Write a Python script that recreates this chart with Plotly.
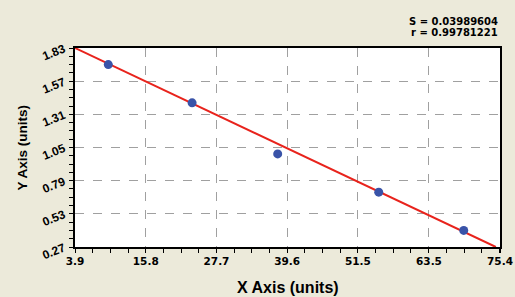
import plotly.graph_objects as go

# Data
pts_x = [9.5, 23.6, 38.0, 55.0, 69.3]
pts_y = [1.70, 1.40, 1.00, 0.70, 0.40]
fit_x = [3.9, 74.7]
fit_y = [1.83, 0.27]

x_tickvals = [3.9, 15.8, 27.7, 39.6, 51.5, 63.45, 75.4]
x_ticktext = ["3.9", "15.8", "27.7", "39.6", "51.5", "63.5", "75.4"]
y_tickvals = [0.27, 0.53, 0.79, 1.05, 1.31, 1.57, 1.83]
y_ticktext = ["0.27", "0.53", "0.79", "1.05", "1.31", "1.57", "1.83"]

stats = ["S = 0.03989604", "r = 0.99781221"]
x_title = "X Axis (units)"
y_title = "Y Axis (units)"

FONT = "Liberation Sans, Arial, sans-serif"
WIDE = "DejaVu Sans, Verdana, sans-serif"
BG = "#ECEADA"

fig = go.Figure()
fig.add_trace(go.Scatter(x=fit_x, y=fit_y, mode="lines",
                         line=dict(color="#E8231C", width=2), hoverinfo="skip"))
fig.add_trace(go.Scatter(x=pts_x, y=pts_y, mode="markers",
                         marker=dict(color="#3953A8", size=9)))

axis_common = dict(
    showline=True, linecolor="black", linewidth=1.5, mirror=True,
    ticks="outside", ticklen=4, tickcolor="black", tickwidth=1,
    showgrid=True, gridcolor="#A0A0A0", griddash="dash", gridwidth=1,
    zeroline=False, automargin=False,
)

fig.update_xaxes(
    range=[3.9, 75.4], tickmode="array", tickvals=x_tickvals, ticktext=x_ticktext,
    tickfont=dict(family=WIDE, size=10.5, color="black", weight="bold"),
    minor=dict(ticks="outside", ticklen=4, tickcolor="black", dtick=11.9 / 4, tick0=3.9,
               showgrid=False),
    **axis_common,
)
fig.update_yaxes(
    range=[0.27, 1.83], tickmode="array", tickvals=y_tickvals, ticktext=y_ticktext,
    tickangle=-22, ticklabelstandoff=3,
    tickfont=dict(family=FONT, size=12, color="black", weight="bold"),
    minor=dict(ticks="outside", ticklen=4, tickcolor="black", dtick=0.065, tick0=0.27,
               showgrid=False),
    **axis_common,
)

for i, s in enumerate(stats):
    fig.add_annotation(text=s, xref="paper", yref="paper", x=1.0, y=1.0,
                       yshift=27 - i * 11,
                       xanchor="right", yanchor="middle", showarrow=False,
                       font=dict(family=WIDE, size=10, color="black", weight="bold"))

fig.add_annotation(text=x_title, xref="paper", yref="paper", x=0.5, y=0.0, yshift=-40,
                   xanchor="center", yanchor="middle", showarrow=False,
                   font=dict(family=FONT, size=16, color="black", weight="bold"))
fig.add_annotation(text=y_title, xref="paper", yref="paper", x=0.0, y=0.5, xshift=-53,
                   xanchor="center", yanchor="middle", showarrow=False, textangle=-90,
                   font=dict(family=FONT, size=13.5, color="black", weight="bold"))

fig.update_layout(
    width=515, height=297,
    margin=dict(l=75, r=15, t=48, b=50),
    paper_bgcolor=BG, plot_bgcolor="white",
    showlegend=False,
)

fig.write_html("out.html")
